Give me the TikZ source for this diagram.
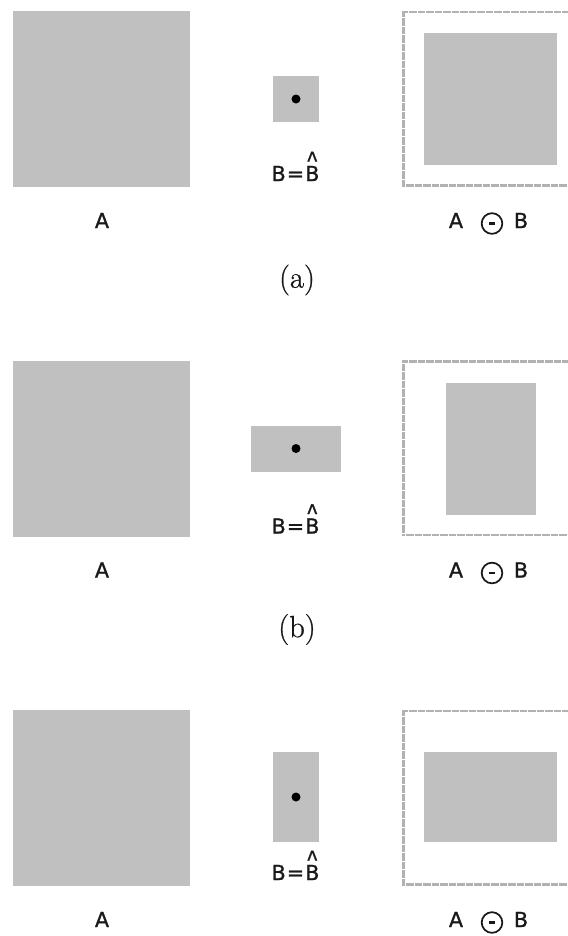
\documentclass[tikz,border=0pt]{standalone}
\usepackage{fontspec}
\usepackage{graphicx}
\newfontfamily\labfont[FakeBold=1.2]{DejaVu Sans}
\newfontfamily\hatfont[FakeBold=1.2]{Liberation Sans}
\newfontfamily\captfont[FakeBold=0.8]{Latin Modern Roman}
\definecolor{shapegray}{RGB}{192,192,192}
\definecolor{rimgray}{RGB}{178,178,178}
\definecolor{inkgray}{RGB}{25,25,25}
\newcommand{\hatted}[1]{\leavevmode\setbox0\hbox{#1}\rlap{\hbox to\wd0{\hss\raisebox{8pt}{\hatfont\scalebox{1.0}[1.3]{\textasciicircum}}\hss}}#1}
\tikzset{
  shp/.style={fill=shapegray},
  rim/.style={draw=rimgray, line width=2.2pt, dash pattern=on 0.6pt off 0.25pt},
  lab/.style={font=\labfont\fontsize{15.5}{18}\selectfont, text=inkgray, inner sep=0pt, anchor=base},
  capt/.style={font=\captfont\fontsize{23}{27}\selectfont, text=black!90, inner sep=0pt},
  opcirc/.style={circle, draw=inkgray, line width=1.3pt, minimum size=15.5pt, inner sep=0pt},
  dot/.style={fill=black}
}
\newcommand{\beq}{B\kern0.8pt=\kern0.8pt\hatted{B}}
\begin{document}
\begin{tikzpicture}[x=0.75pt,y=-0.75pt]
\useasboundingbox (0,0) rectangle (568,936);
% ---------- panel (a)
\fill[shp] (13,11) rectangle (190,187);
\node[lab] (Aa) at (102,228) {A};
\fill[shp] (273,76) rectangle (319,122);
\fill[dot] (296,99) circle (4.5);
\node[lab] (Ba) at (295.5,181) {\beq};
\draw[rim] (568,12) -- (403.5,12) -- (403.5,185.5) -- (568,185.5);
\fill[shp] (424,33) rectangle (557,165);
\node[lab] (EAa) at (456,228) {A};
\node[opcirc] (Oa) at (492,223.5) {};
\draw[inkgray, line width=1.6pt] ([xshift=-2.6pt]Oa.center) -- ([xshift=2.6pt]Oa.center);
\node[lab] (EBa) at (521,228) {B};
\node[capt] (capa) at (297,280) {(a)};
% ---------- panel (b)
\begin{scope}[shift={(0,349.5)}]
\fill[shp] (13,11) rectangle (190,187);
\node[lab] (Ab) at (102,228) {A};
\fill[shp] (251,76) rectangle (341,122);
\fill[dot] (296,99) circle (4.5);
\node[lab] (Bb) at (295.5,184) {\beq};
\draw[rim] (568,12) -- (403.5,12) -- (403.5,185.5) -- (568,185.5);
\fill[shp] (446,33) rectangle (536,165);
\node[lab] (EAb) at (456,228) {A};
\node[opcirc] (Ob) at (492,223.5) {};
\draw[inkgray, line width=1.6pt] ([xshift=-2.6pt]Ob.center) -- ([xshift=2.6pt]Ob.center);
\node[lab] (EBb) at (521,228) {B};
\node[capt] (capb) at (297,280) {(b)};
\end{scope}
% ---------- panel (c)
\begin{scope}[shift={(0,699)}]
\fill[shp] (13,11) rectangle (190,187);
\node[lab] (Ac) at (102,228) {A};
\fill[shp] (273,53) rectangle (319,143);
\fill[dot] (296,98) circle (4.5);
\node[lab] (Bc) at (295.5,181) {\beq};
\draw[rim] (568,12) -- (403.5,12) -- (403.5,185.5) -- (568,185.5);
\fill[shp] (424,53) rectangle (557,143);
\node[lab] (EAc) at (456,228) {A};
\node[opcirc] (Oc) at (492,223.5) {};
\draw[inkgray, line width=1.6pt] ([xshift=-2.6pt]Oc.center) -- ([xshift=2.6pt]Oc.center);
\node[lab] (EBc) at (521,228) {B};
\end{scope}
\end{tikzpicture}
\end{document}
